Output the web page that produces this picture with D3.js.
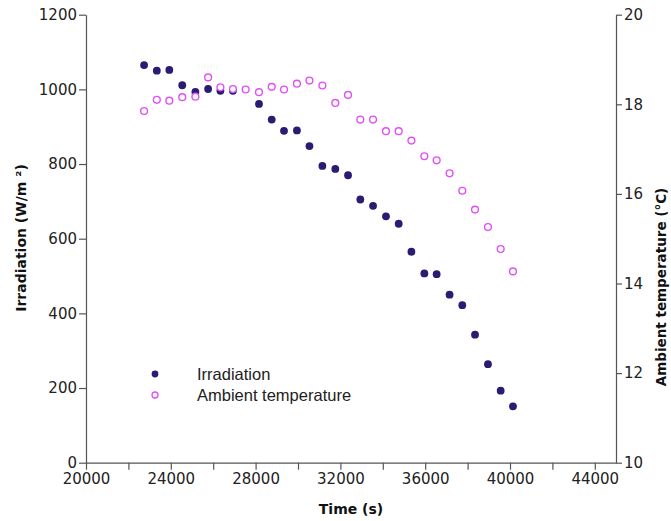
<!DOCTYPE html>
<html><head><meta charset="utf-8">
<script src="https://cdn.jsdelivr.net/npm/d3@7"></script>
<style>body{margin:0;background:#fff}</style>
</head><body>
<svg id="c" width="671" height="521"></svg>
<script>
const irrTime = [22740,23340,23930,24540,25160,25760,26340,26930,28160,28760,29340,29950,30540,31150,31760,32360,32940,33540,34150,34750,35350,35960,36540,37150,37750,38350,38960,39560,40140];
const irradiation = [1065,1050,1052,1011,993,1001,996,996,961,919,889,890,848,795,787,770,705,688,660,640,565,507,505,450,422,343,264,193,151];
const tempTime = [22740,23340,23930,24540,25160,25760,26340,26930,27530,28160,28760,29340,29950,30540,31150,31760,32360,32940,33540,34150,34750,35350,35960,36540,37150,37750,38350,38960,39560,40140];
const temperature = [17.85,18.10,18.08,18.16,18.17,18.60,18.38,18.34,18.33,18.27,18.39,18.33,18.46,18.53,18.42,18.03,18.21,17.66,17.66,17.40,17.40,17.19,16.84,16.75,16.46,16.07,15.65,15.26,14.77,14.27];
const xTicks = [20000,22000,24000,26000,28000,30000,32000,34000,36000,38000,40000,42000,44000];
const xTickLabels = ["20000","","24000","","28000","","32000","","36000","","40000","","44000"];
const yLeftTicks = [0,200,400,600,800,1000,1200];
const yRightTicks = [10,12,14,16,18,20];
const seriesNames = ["Irradiation","Ambient temperature"];

const svg = d3.select("#c");
const L=86, R=616, T=14.7, B=462.7;
const x = d3.scaleLinear().domain([20000,45000]).range([L,R]);
const yL = d3.scaleLinear().domain([0,1200]).range([B,T]);
const yR = d3.scaleLinear().domain([10,20]).range([B,T]);
const navy="#2a1c72", mag="#e24ff6", axc="#555";
const tickFont = "DejaVu Sans, sans-serif";

function styleAxis(g){
  g.selectAll("path,line").attr("stroke",axc).attr("stroke-width",1.2);
  g.selectAll("text").attr("fill","#222").style("font-family",tickFont).style("font-size","15px");
}
const gx = svg.append("g").attr("transform",`translate(0,${B})`)
  .call(d3.axisBottom(x).tickValues(xTicks).tickFormat((d,i)=>xTickLabels[i]).tickSize(7).tickSizeOuter(0).tickPadding(4));
styleAxis(gx);
const gl = svg.append("g").attr("transform",`translate(${L},0)`)
  .call(d3.axisLeft(yL).tickValues(yLeftTicks).tickFormat(d3.format("d")).tickSize(7).tickSizeOuter(0).tickPadding(2));
styleAxis(gl);
const gr = svg.append("g").attr("transform",`translate(${R},0)`)
  .call(d3.axisRight(yR).tickValues(yRightTicks).tickFormat(d3.format("d")).tickSize(6).tickSizeOuter(0).tickPadding(2));
styleAxis(gr);

// titles
svg.append("text").attr("x",(L+R)/2).attr("y",514).attr("text-anchor","middle")
  .style("font-family","DejaVu Sans, sans-serif").style("font-weight","bold").style("font-size","14px").attr("fill","#111").text("Time (s)");
svg.append("text").attr("transform",`translate(26,238) rotate(-90)`).attr("text-anchor","middle")
  .style("font-family","DejaVu Sans, sans-serif").style("font-weight","bold").style("font-size","14px").attr("fill","#111").text("Irradiation (W/m ²)");
svg.append("text").attr("transform",`translate(666,287) rotate(-90)`).attr("text-anchor","middle")
  .style("font-family","DejaVu Sans, sans-serif").style("font-weight","bold").style("font-size","13.5px").attr("fill","#111").text("Ambient temperature (°C)");

// points
svg.append("g").selectAll("circle").data(irrTime).join("circle")
  .attr("cx",(d)=>x(d)).attr("cy",(d,i)=>yL(irradiation[i])).attr("r",3.9).attr("fill",navy);
svg.append("g").selectAll("circle").data(tempTime).join("circle")
  .attr("cx",(d)=>x(d)).attr("cy",(d,i)=>yR(temperature[i])).attr("r",3.4)
  .attr("fill","#fff").attr("stroke",mag).attr("stroke-width",1.4);

// legend
const lg = svg.append("g");
lg.append("circle").attr("cx",155).attr("cy",374).attr("r",3.4).attr("fill",navy);
lg.append("circle").attr("cx",155).attr("cy",395).attr("r",3).attr("fill","#fff").attr("stroke",mag).attr("stroke-width",1.3);
lg.selectAll("text").data(seriesNames).join("text")
  .attr("x",197).attr("y",(d,i)=>374+i*21).attr("dy","0.35em")
  .style("font-family","Liberation Sans, Arial, sans-serif").style("font-size","16.5px").attr("fill","#222").text(d=>d);
</script>
</body></html>
